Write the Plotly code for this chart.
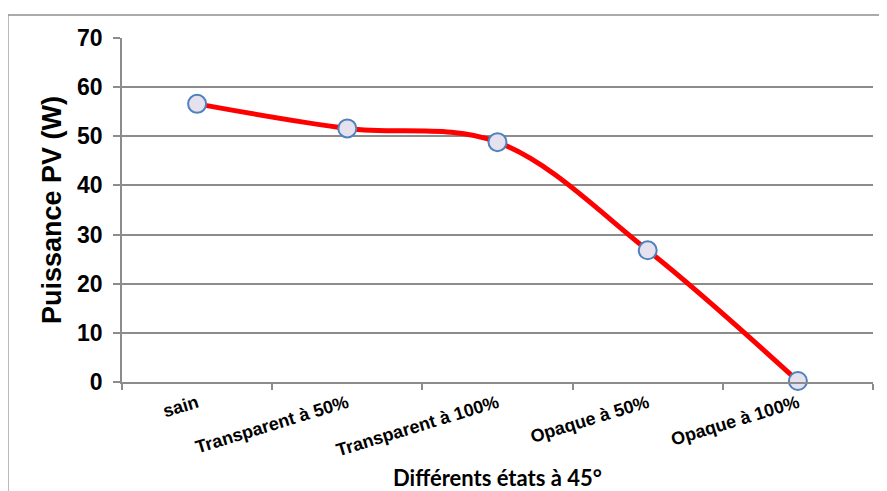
import plotly.graph_objects as go

etats = ["sain", "Transparent à 50%", "Transparent à 100%", "Opaque à 50%", "Opaque à 100%"]
puissance = [56.6, 51.6, 48.8, 26.8, 0.2]
y_ticks = [0, 10, 20, 30, 40, 50, 60, 70]

grey = "#8c8c8c"

fig = go.Figure(go.Scatter(
    x=etats,
    y=puissance,
    mode="lines+markers",
    line=dict(color="#ff0000", width=5, shape="spline", smoothing=1),
    marker=dict(size=18, color="#e6e1ee", line=dict(color="#4f81bd", width=2)),
    cliponaxis=False,
    showlegend=False,
))

# the page body adds an 8px margin, so the figure is sized/offset for it
fig.update_layout(
    width=879, height=483,
    margin=dict(l=114, r=14, t=30, b=109),
    paper_bgcolor="white",
    plot_bgcolor="white",
    xaxis=dict(
        type="category",
        range=[-0.5, 4.5],
        automargin=False,
        tickson="boundaries",
        ticks="outside", ticklen=6, tickcolor=grey, tickwidth=1.5,
        showline=True, linecolor=grey, linewidth=1.5,
        showgrid=False,
        tickangle=-17,
        ticklabelstandoff=2,
        tickfont=dict(family="Liberation Sans, Arial", size=18, color="black", weight="bold"),
        title=dict(
            text="Différents états à 45°",
            font=dict(family="Lato, Open Sans", size=22, color="black", weight="bold"),
            standoff=12,
        ),
    ),
    yaxis=dict(
        range=[0, 70],
        tickvals=y_ticks,
        automargin=False,
        ticks="outside", ticklen=7, tickcolor=grey, tickwidth=1.5,
        showline=True, linecolor=grey, linewidth=1.5,
        showgrid=True, gridcolor=grey, gridwidth=1.5,
        zeroline=False,
        ticklabelstandoff=6,
        tickfont=dict(family="Liberation Sans, Arial", size=23, color="black", weight="bold"),
        title=dict(
            text="Puissance PV (W)",
            font=dict(family="Liberation Sans, Arial", size=27, color="black", weight="bold"),
            standoff=8,
        ),
    ),
    shapes=[dict(
        type="rect", xref="paper", yref="paper",
        x0=-0.152, x1=1.05, y0=-0.4, y1=1.067,
        line=dict(color="#8e8e8e", width=1.5),
        fillcolor="rgba(0,0,0,0)",
        layer="below",
    )],
)

fig.write_html("out.html")
